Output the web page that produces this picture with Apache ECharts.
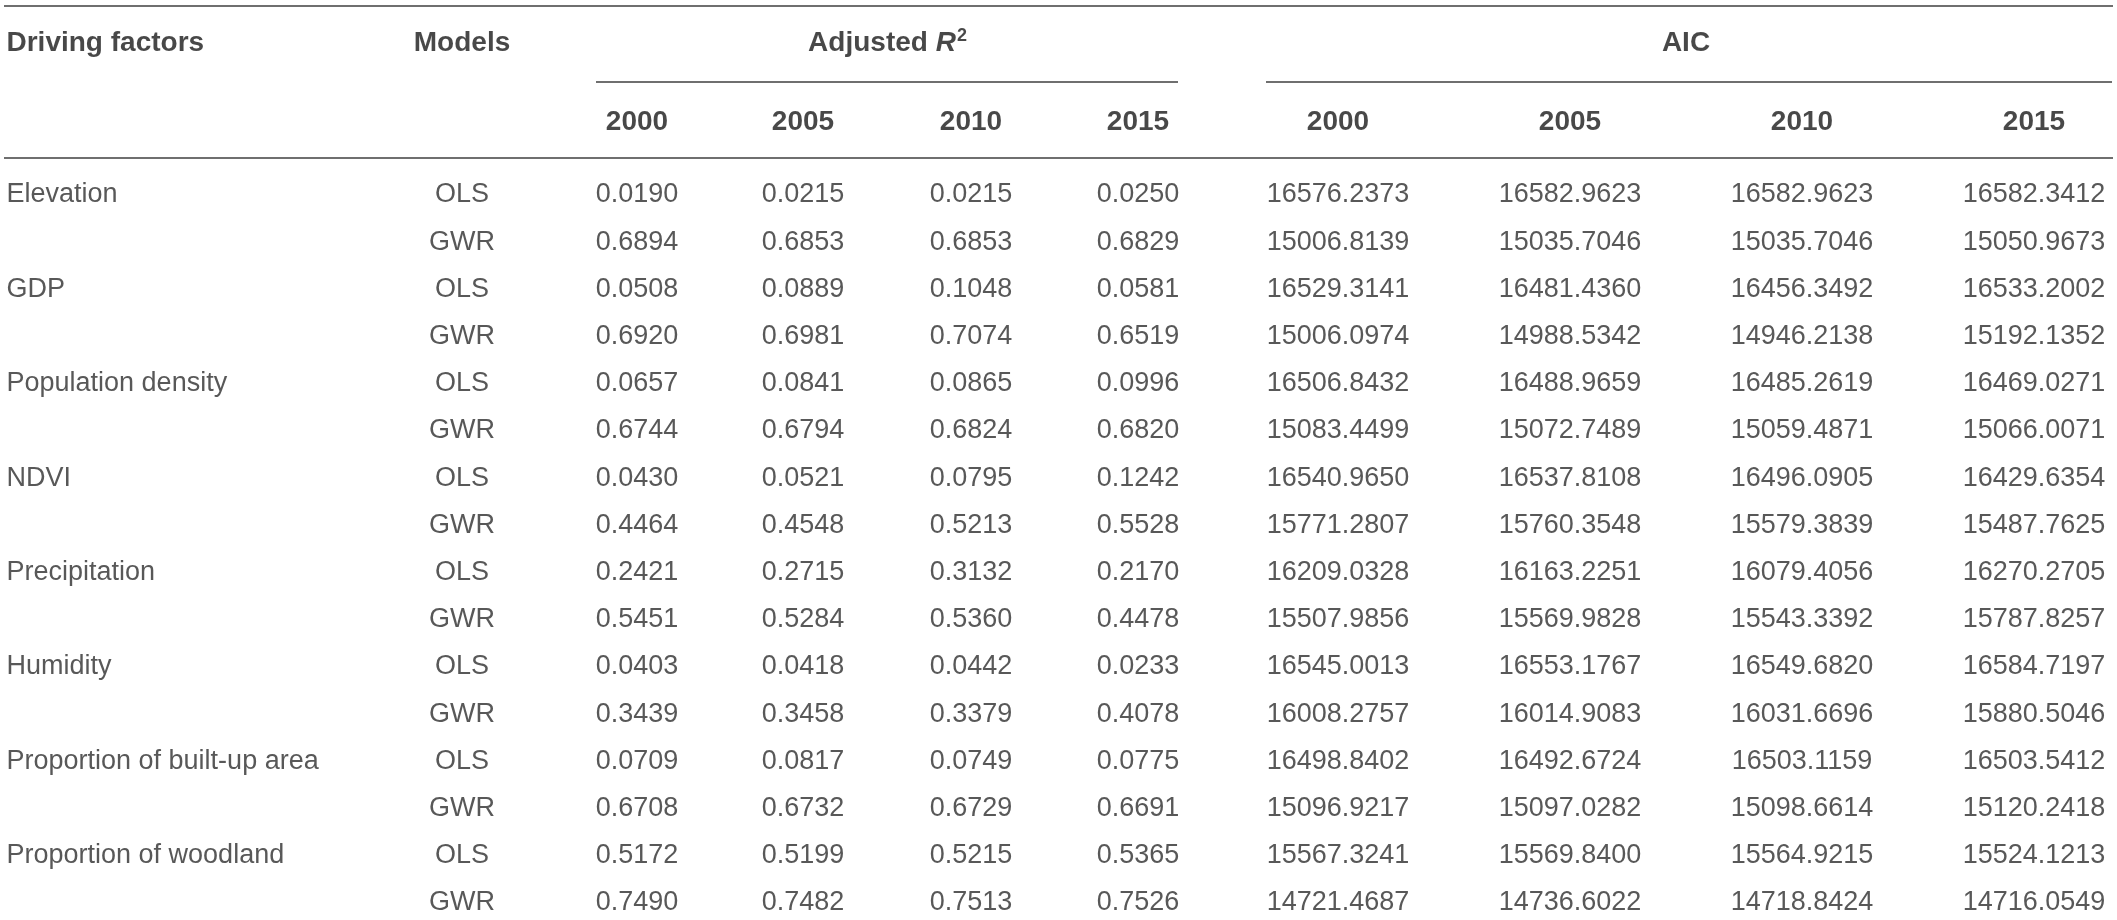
<!DOCTYPE html>
<html>
<head>
<meta charset="utf-8">
<title>Adjusted R2 and AIC of OLS and GWR models</title>
<script src="https://cdn.jsdelivr.net/npm/echarts@6/dist/echarts.min.js"></script>
<style>
  html, body { margin: 0; padding: 0; background: #fff; }
  #chart { width: 2117px; height: 920px; }
</style>
</head>
<body>
<div id="chart"></div>
<script>
const factors = ['Elevation', 'GDP', 'Population density', 'NDVI', 'Precipitation', 'Humidity',
  'Proportion of built-up area', 'Proportion of woodland']
const models = ['OLS', 'GWR']
const years = ['2000', '2005', '2010', '2015']

// adjusted R2, one row per factor, columns are the years
const r2OLS = [
  [0.0190, 0.0215, 0.0215, 0.0250],
  [0.0508, 0.0889, 0.1048, 0.0581],
  [0.0657, 0.0841, 0.0865, 0.0996],
  [0.0430, 0.0521, 0.0795, 0.1242],
  [0.2421, 0.2715, 0.3132, 0.2170],
  [0.0403, 0.0418, 0.0442, 0.0233],
  [0.0709, 0.0817, 0.0749, 0.0775],
  [0.5172, 0.5199, 0.5215, 0.5365]
]
const r2GWR = [
  [0.6894, 0.6853, 0.6853, 0.6829],
  [0.6920, 0.6981, 0.7074, 0.6519],
  [0.6744, 0.6794, 0.6824, 0.6820],
  [0.4464, 0.4548, 0.5213, 0.5528],
  [0.5451, 0.5284, 0.5360, 0.4478],
  [0.3439, 0.3458, 0.3379, 0.4078],
  [0.6708, 0.6732, 0.6729, 0.6691],
  [0.7490, 0.7482, 0.7513, 0.7526]
]
// AIC
const aicOLS = [
  [16576.2373, 16582.9623, 16582.9623, 16582.3412],
  [16529.3141, 16481.4360, 16456.3492, 16533.2002],
  [16506.8432, 16488.9659, 16485.2619, 16469.0271],
  [16540.9650, 16537.8108, 16496.0905, 16429.6354],
  [16209.0328, 16163.2251, 16079.4056, 16270.2705],
  [16545.0013, 16553.1767, 16549.6820, 16584.7197],
  [16498.8402, 16492.6724, 16503.1159, 16503.5412],
  [15567.3241, 15569.8400, 15564.9215, 15524.1213]
]
const aicGWR = [
  [15006.8139, 15035.7046, 15035.7046, 15050.9673],
  [15006.0974, 14988.5342, 14946.2138, 15192.1352],
  [15083.4499, 15072.7489, 15059.4871, 15066.0071],
  [15771.2807, 15760.3548, 15579.3839, 15487.7625],
  [15507.9856, 15569.9828, 15543.3392, 15787.8257],
  [16008.2757, 16014.9083, 16031.6696, 15880.5046],
  [15096.9217, 15097.0282, 15098.6614, 15120.2418],
  [14721.4687, 14736.6022, 14718.8424, 14716.0549]
]

// layout (pixels of the 2117 x 920 page)
const W = 2117
const H = 920
const factorX = 6
const modelX = 462
const r2X = [637, 803, 971, 1138]
const aicX = [1338, 1570, 1802, 2034]
const headY = 43
const yearY = 122
const rowY0 = 195
const rowStep = 47.2
const rules = [
  { y: 5.5, from: 4, to: 2113 },
  { y: 82, from: 596, to: 1178 },
  { y: 82, from: 1266, to: 2112 },
  { y: 158, from: 4, to: 2113 }
]

const font = "'Liberation Sans', Arial, Helvetica, sans-serif"

function cell (x, y, text, align) {
  return {
    value: [x, y],
    label: { formatter: text, position: align === 'left' ? 'right' : 'inside', distance: 0, align: align || 'center' }
  }
}

const headCells = [
  cell(factorX, headY, 'Driving factors', 'left'),
  cell(modelX, headY, 'Models'),
  cell((r2X[0] + r2X[3]) / 2 + 0, headY, '{b|Adjusted }{i|R}{s|2}'),
  cell((aicX[0] + aicX[3]) / 2, headY, 'AIC')
]
years.forEach((yr, j) => {
  headCells.push(cell(r2X[j], yearY, yr))
  headCells.push(cell(aicX[j], yearY, yr))
})

const bodyCells = []
factors.forEach((f, i) => {
  const yOls = rowY0 + rowStep * (2 * i)
  const yGwr = rowY0 + rowStep * (2 * i + 1)
  bodyCells.push(cell(factorX, yOls, f, 'left'))
  bodyCells.push(cell(modelX, yOls, models[0]))
  bodyCells.push(cell(modelX, yGwr, models[1]))
  years.forEach((yr, j) => {
    bodyCells.push(cell(r2X[j], yOls, r2OLS[i][j].toFixed(4)))
    bodyCells.push(cell(r2X[j], yGwr, r2GWR[i][j].toFixed(4)))
    bodyCells.push(cell(aicX[j], yOls, aicOLS[i][j].toFixed(4)))
    bodyCells.push(cell(aicX[j], yGwr, aicGWR[i][j].toFixed(4)))
  })
})

const chart = echarts.init(document.getElementById('chart'))
chart.setOption({
  animation: false,
  backgroundColor: '#ffffff',
  grid: { left: 0, right: 0, top: 0, bottom: 0 },
  xAxis: { type: 'value', min: 0, max: W, show: false },
  yAxis: { type: 'value', min: 0, max: H, inverse: true, show: false },
  series: [
    {
      type: 'lines',
      coordinateSystem: 'cartesian2d',
      silent: true,
      lineStyle: { color: '#6f6f6f', width: 2, opacity: 1 },
      data: rules.map(r => ({ coords: [[r.from, r.y], [r.to, r.y]] }))
    },
    {
      type: 'scatter',
      silent: true,
      symbolSize: 1,
      itemStyle: { color: 'transparent' },
      label: {
        show: true,
        verticalAlign: 'middle',
        fontFamily: font,
        fontSize: 28,
        fontWeight: 'bold',
        color: '#1a1a1a',
        rich: {
          b: { fontFamily: font, fontSize: 28, fontWeight: 'bold', color: '#1a1a1a', lineHeight: 32 },
          i: { fontFamily: font, fontSize: 28, fontWeight: 'bold', fontStyle: 'italic', color: '#1a1a1a', lineHeight: 32 },
          s: { fontFamily: font, fontSize: 18, fontWeight: 'bold', color: '#1a1a1a', lineHeight: 18, verticalAlign: 'top', padding: [0, 0, 0, 1] }
        }
      },
      data: headCells
    },
    {
      type: 'scatter',
      silent: true,
      symbolSize: 1,
      itemStyle: { color: 'transparent' },
      label: {
        show: true,
        verticalAlign: 'middle',
        fontFamily: font,
        fontSize: 27,
        color: '#2e2e2e'
      },
      data: bodyCells
    }
  ]
})
</script>
</body>
</html>
